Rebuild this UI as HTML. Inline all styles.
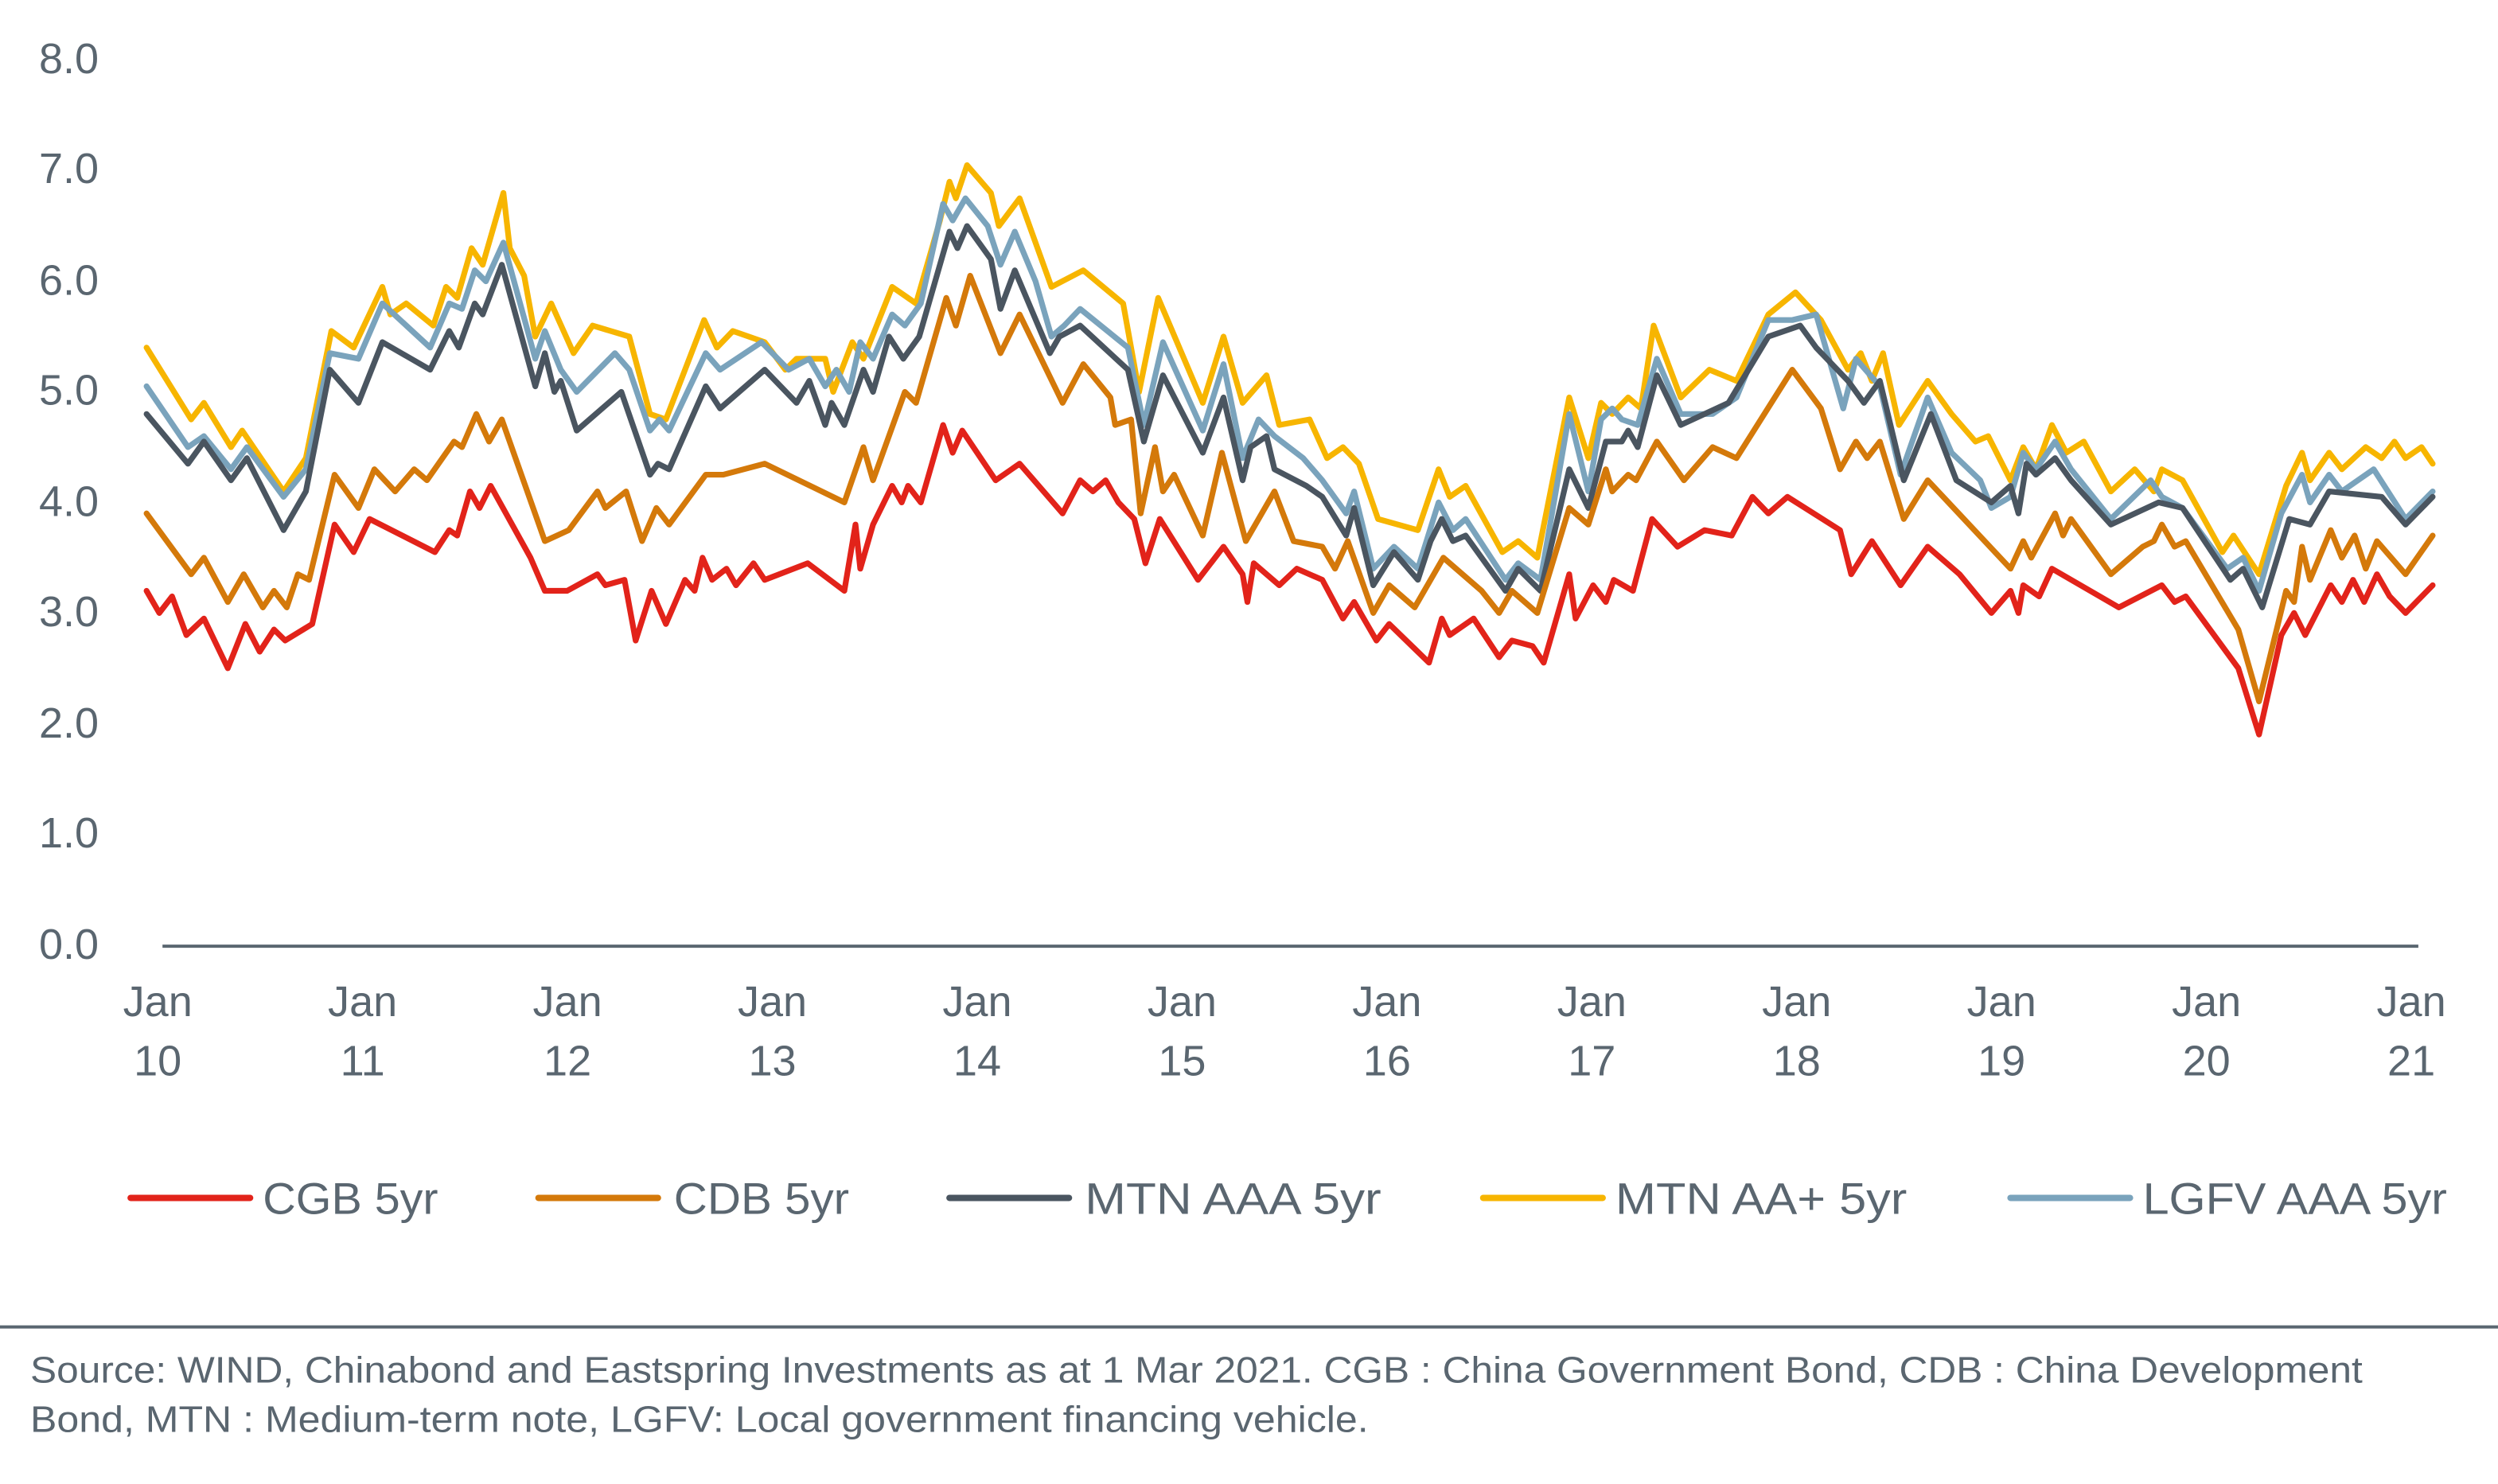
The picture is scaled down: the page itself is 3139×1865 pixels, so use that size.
<!DOCTYPE html>
<html><head><meta charset="utf-8">
<style>
html,body{margin:0;padding:0;background:#fff;}
svg{display:block;}
text{font-family:"Liberation Sans",sans-serif;fill:#5a6670;}
</style></head>
<body>
<svg id="s" width="3139" height="1865" viewBox="0 0 1568 931.6" preserveAspectRatio="none">
<g font-size="27">
<text x="62" y="46" text-anchor="end">8.0</text>
<text x="62" y="115" text-anchor="end">7.0</text>
<text x="62" y="185" text-anchor="end">6.0</text>
<text x="62" y="254" text-anchor="end">5.0</text>
<text x="62" y="324" text-anchor="end">4.0</text>
<text x="62" y="393" text-anchor="end">3.0</text>
<text x="62" y="463" text-anchor="end">2.0</text>
<text x="62" y="532" text-anchor="end">1.0</text>
<text x="62" y="602" text-anchor="end">0.0</text>
</g>
<line x1="102" y1="594" x2="1518" y2="594" stroke="#5a6670" stroke-width="2"/>
<g id="xl" font-size="27" text-anchor="middle"></g>
<g id="lines" fill="none" stroke-width="3.6" stroke-linejoin="round" stroke-linecap="round"></g>
<g font-size="28" stroke-width="4" stroke-linecap="round">
<line x1="82" y1="752" x2="157" y2="752" stroke="#e2231a"/><text x="165" y="762" textLength="110" lengthAdjust="spacingAndGlyphs">CGB 5yr</text>
<line x1="338" y1="752" x2="413" y2="752" stroke="#d4790a"/><text x="423" y="762" textLength="110" lengthAdjust="spacingAndGlyphs">CDB 5yr</text>
<line x1="596" y1="752" x2="671" y2="752" stroke="#4a5560"/><text x="681" y="762" textLength="186" lengthAdjust="spacingAndGlyphs">MTN AAA 5yr</text>
<line x1="931" y1="752" x2="1006" y2="752" stroke="#f7b500"/><text x="1014" y="762" textLength="183" lengthAdjust="spacingAndGlyphs">MTN AA+ 5yr</text>
<line x1="1262" y1="752" x2="1337" y2="752" stroke="#7aa3bc"/><text x="1345" y="762" textLength="191" lengthAdjust="spacingAndGlyphs">LGFV AAA 5yr</text>
</g>
<line x1="0" y1="833" x2="1568" y2="833" stroke="#5a6670" stroke-width="2"/>
<g font-size="23">
<text x="19" y="868" textLength="1464" lengthAdjust="spacingAndGlyphs">Source: WIND, Chinabond and Eastspring Investments as at 1 Mar 2021. CGB : China Government Bond, CDB : China Development</text>
<text x="19" y="899" textLength="840" lengthAdjust="spacingAndGlyphs">Bond, MTN : Medium-term note, LGFV: Local government financing vehicle.</text>
</g>
</svg>
<script>
var NS="http://www.w3.org/2000/svg";
var xl=document.getElementById("xl");
for(var i=0;i<12;i++){var x=99+i*128.6;
 var t=document.createElementNS(NS,"text");t.setAttribute("x",x);t.setAttribute("y",638);t.textContent="Jan";xl.appendChild(t);
 t=document.createElementNS(NS,"text");t.setAttribute("x",x);t.setAttribute("y",675);t.textContent=String(10+i);xl.appendChild(t);}
function Y(v){return 593-v*69.4;}
var S={
"#f7b500":[92,5.4,120,4.75,128,4.9,145,4.5,152,4.65,178,4.1,192,4.4,208,5.55,222,5.4,240,5.95,245,5.7,255,5.8,272,5.6,280,5.95,287,5.85,296,6.3,303,6.15,316,6.8,320,6.3,329,6.05,336,5.5,346,5.8,360,5.35,372,5.6,395,5.5,408,4.8,418,4.75,442,5.65,450,5.4,460,5.55,480,5.45,493,5.2,500,5.3,518,5.3,523,5.0,535,5.45,542,5.3,560,5.95,575,5.8,590,6.55,596,6.9,600,6.75,607,7.05,622,6.8,627,6.5,640,6.75,660,5.95,680,6.1,705,5.8,715,5.0,727,5.85,755,4.9,768,5.5,780,4.9,795,5.15,803,4.7,822,4.75,833,4.4,843,4.5,853,4.35,865,3.85,890,3.75,903,4.3,910,4.05,920,4.15,943,3.55,953,3.65,965,3.5,985,4.95,997,4.4,1005,4.9,1012,4.8,1022,4.95,1030,4.85,1038,5.6,1055,4.95,1073,5.2,1090,5.1,1110,5.7,1127,5.9,1143,5.65,1160,5.2,1168,5.35,1175,5.1,1182,5.35,1192,4.7,1210,5.1,1225,4.8,1240,4.55,1248,4.6,1262,4.2,1270,4.5,1278,4.3,1288,4.7,1297,4.45,1308,4.55,1325,4.1,1340,4.3,1352,4.1,1357,4.3,1370,4.2,1395,3.55,1402,3.7,1418,3.35,1435,4.15,1445,4.45,1450,4.2,1462,4.45,1470,4.3,1485,4.5,1495,4.4,1503,4.55,1510,4.4,1520,4.5,1527,4.35],
"#7aa3bc":[92,5.05,118,4.5,128,4.6,145,4.3,155,4.5,178,4.05,192,4.3,207,5.35,225,5.3,240,5.8,270,5.4,282,5.8,290,5.75,298,6.1,305,6.0,316,6.35,336,5.3,342,5.55,352,5.2,362,5.0,386,5.35,395,5.2,408,4.65,414,4.75,420,4.65,443,5.35,452,5.2,478,5.45,495,5.2,508,5.3,518,5.05,525,5.2,533,5.0,540,5.45,548,5.3,560,5.7,568,5.6,578,5.8,592,6.7,598,6.55,606,6.75,620,6.5,628,6.15,637,6.45,650,6.0,660,5.5,668,5.6,678,5.75,708,5.4,718,4.7,730,5.45,755,4.65,768,5.25,780,4.4,790,4.75,800,4.6,818,4.4,830,4.2,845,3.9,850,4.1,862,3.4,875,3.6,890,3.4,903,4.0,912,3.75,920,3.85,945,3.3,953,3.45,967,3.3,985,4.8,997,4.1,1005,4.75,1012,4.85,1018,4.75,1028,4.7,1040,5.3,1055,4.8,1075,4.8,1090,4.95,1110,5.65,1125,5.65,1140,5.7,1157,4.85,1165,5.3,1180,5.05,1193,4.25,1210,4.95,1225,4.45,1243,4.2,1250,3.95,1262,4.05,1270,4.45,1278,4.3,1290,4.55,1300,4.3,1325,3.85,1350,4.2,1357,4.05,1370,3.95,1398,3.4,1408,3.5,1418,3.2,1432,3.9,1445,4.25,1450,4.0,1462,4.25,1470,4.1,1490,4.3,1510,3.85,1527,4.1],
"#4a5560":[92,4.8,118,4.35,128,4.55,145,4.2,155,4.4,178,3.75,192,4.1,207,5.2,225,4.9,240,5.45,270,5.2,282,5.55,288,5.4,298,5.8,303,5.7,315,6.15,336,5.05,342,5.35,348,5.0,352,5.1,362,4.65,390,5.0,408,4.25,413,4.35,420,4.3,443,5.05,452,4.85,480,5.2,500,4.9,508,5.1,518,4.7,522,4.9,530,4.7,542,5.2,548,5.0,558,5.5,567,5.3,577,5.5,596,6.45,601,6.3,607,6.5,622,6.2,628,5.75,637,6.1,659,5.35,665,5.5,678,5.6,708,5.2,718,4.55,730,5.15,755,4.45,768,4.95,780,4.2,785,4.5,795,4.6,800,4.3,820,4.15,830,4.05,845,3.7,850,3.95,862,3.25,875,3.55,890,3.3,898,3.65,905,3.85,912,3.65,920,3.7,945,3.2,953,3.4,967,3.2,985,4.3,997,3.95,1008,4.55,1018,4.55,1022,4.65,1028,4.5,1040,5.15,1055,4.7,1085,4.9,1110,5.5,1130,5.6,1140,5.4,1160,5.1,1170,4.9,1180,5.1,1195,4.2,1212,4.8,1228,4.2,1250,4.0,1262,4.15,1267,3.9,1272,4.35,1278,4.25,1290,4.4,1300,4.2,1325,3.8,1355,4.0,1370,3.95,1400,3.3,1408,3.4,1420,3.05,1437,3.85,1450,3.8,1462,4.1,1495,4.05,1510,3.8,1527,4.05],
"#d4790a":[92,3.9,120,3.35,128,3.5,143,3.1,153,3.35,165,3.05,172,3.2,180,3.05,187,3.35,194,3.3,210,4.25,225,3.95,235,4.3,248,4.1,260,4.3,268,4.2,285,4.55,290,4.5,299,4.8,307,4.55,315,4.75,342,3.65,357,3.75,375,4.1,380,3.95,393,4.1,403,3.65,412,3.95,420,3.8,443,4.25,454,4.25,480,4.35,530,4.0,542,4.5,548,4.2,568,5.0,575,4.9,594,5.85,600,5.6,609,6.05,628,5.35,640,5.7,667,4.9,680,5.25,697,4.95,700,4.7,710,4.75,716,3.9,725,4.5,730,4.1,737,4.25,755,3.7,767,4.45,782,3.65,800,4.1,812,3.65,830,3.6,838,3.4,846,3.65,862,3.0,872,3.25,888,3.05,906,3.5,930,3.2,941,3.0,949,3.2,965,3.0,985,3.95,997,3.8,1008,4.3,1012,4.1,1022,4.25,1027,4.2,1040,4.55,1057,4.2,1075,4.5,1090,4.4,1125,5.2,1143,4.85,1155,4.3,1165,4.55,1172,4.4,1180,4.55,1195,3.85,1210,4.2,1262,3.4,1270,3.65,1275,3.5,1290,3.9,1295,3.7,1300,3.85,1325,3.35,1345,3.6,1352,3.65,1357,3.8,1365,3.6,1372,3.65,1405,2.85,1418,2.2,1435,3.2,1440,3.1,1445,3.6,1450,3.3,1463,3.75,1470,3.5,1478,3.7,1485,3.4,1492,3.65,1510,3.35,1527,3.7],
"#e2231a":[92,3.2,100,3.0,108,3.15,117,2.8,128,2.95,143,2.5,154,2.9,163,2.65,172,2.85,179,2.75,196,2.9,210,3.8,222,3.55,232,3.85,273,3.55,282,3.75,287,3.7,295,4.1,301,3.95,308,4.15,333,3.5,342,3.2,356,3.2,375,3.35,380,3.25,392,3.3,399,2.75,409,3.2,418,2.9,430,3.3,436,3.2,441,3.5,447,3.3,456,3.4,462,3.25,473,3.45,480,3.3,507,3.45,530,3.2,537,3.8,540,3.4,548,3.8,560,4.15,566,4.0,570,4.15,578,4.0,592,4.7,598,4.45,604,4.65,625,4.2,640,4.35,667,3.9,678,4.2,686,4.1,694,4.2,702,4.0,712,3.85,719,3.45,728,3.85,752,3.3,768,3.6,780,3.35,783,3.1,787,3.45,803,3.25,814,3.4,830,3.3,843,2.95,850,3.1,864,2.75,872,2.9,897,2.55,905,2.95,910,2.8,925,2.95,941,2.6,949,2.75,962,2.7,969,2.55,985,3.35,989,2.95,1000,3.25,1008,3.1,1013,3.3,1025,3.2,1037,3.85,1053,3.6,1070,3.75,1087,3.7,1100,4.05,1110,3.9,1122,4.05,1155,3.75,1162,3.35,1175,3.65,1193,3.25,1210,3.6,1230,3.35,1250,3.0,1262,3.2,1267,3.0,1270,3.25,1280,3.15,1288,3.4,1330,3.05,1357,3.25,1365,3.1,1372,3.15,1405,2.5,1418,1.9,1432,2.8,1440,3.0,1447,2.8,1463,3.25,1470,3.1,1477,3.3,1484,3.1,1492,3.35,1500,3.15,1510,3.0,1527,3.25]
};
var g=document.getElementById("lines");
for(var c in S){var a=S[c],p=[];for(var j=0;j<a.length;j+=2)p.push(a[j]+","+Y(a[j+1]).toFixed(1));
 var pl=document.createElementNS(NS,"polyline");pl.setAttribute("points",p.join(" "));pl.setAttribute("stroke",c);g.appendChild(pl);}
</script>
</body></html>
